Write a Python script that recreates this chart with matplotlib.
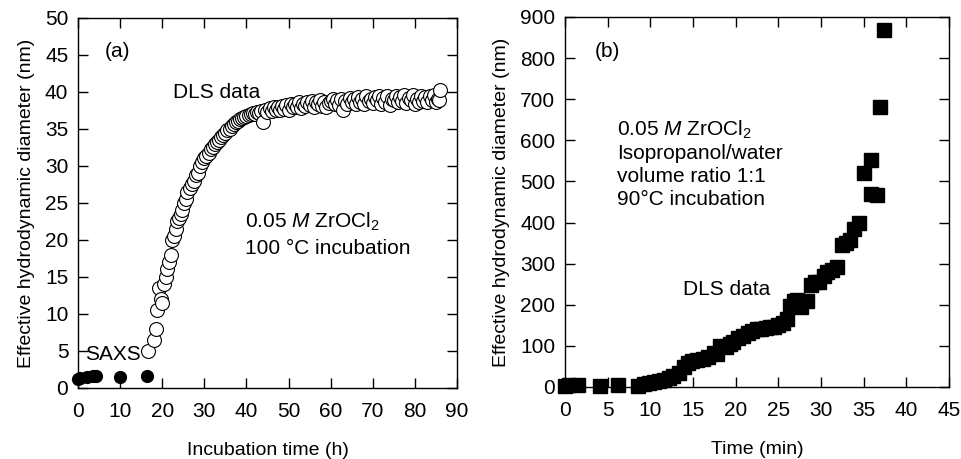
import matplotlib
matplotlib.use("Agg")
import matplotlib.pyplot as plt

plt.rcParams.update({
    "font.family": "Liberation Sans",
    "font.size": 14,
    "mathtext.fontset": "custom",
    "mathtext.rm": "Liberation Sans",
    "mathtext.it": "Liberation Sans:italic",
})

# panel (a): SAXS (filled) and DLS (open) data, hours vs nm
saxs_t = [0.0, 0.5, 2.1, 3.6, 4.3, 10.0, 16.4]
saxs_d = [1.2, 1.3, 1.5, 1.6, 1.6, 1.5, 1.6]

dls_t = [16.5, 18.0, 18.4, 18.8, 19.2, 19.6, 20.0, 20.4, 20.8, 21.2,
         21.6, 22.0, 22.4, 22.8, 23.2, 23.6, 24.0, 24.4, 24.8, 25.2,
         25.6, 26.0, 26.5, 27.0, 27.5, 28.0, 28.5, 29.0, 29.5, 30.0,
         30.5, 31.0, 31.5, 32.0, 32.5, 33.0, 33.5, 34.0, 34.5, 35.0,
         35.5, 36.0, 36.5, 37.0, 37.5, 38.0, 38.5, 39.0, 39.5, 40.0,
         40.5, 41.0, 41.5, 42.0, 42.5, 43.0, 43.5, 44.0, 44.5,
         45.0, 45.5, 46.0, 46.5, 47.0, 47.5, 48.0, 48.5, 49.0, 49.5,
         50.0, 50.5, 51.0, 51.5, 52.0, 52.5, 53.0, 53.5, 54.0, 54.5,
         55.0, 55.5, 56.0, 56.5, 57.0, 57.5, 58.0, 58.5, 59.0, 59.5,
         60.0, 60.5, 61.0, 61.5, 62.0, 62.5, 63.0, 63.5, 64.0, 64.5,
         65.0, 65.5, 66.0, 66.5, 67.0, 67.5, 68.0, 68.5, 69.0, 69.5,
         70.0, 70.5, 71.0, 71.5, 72.0, 72.5, 73.0, 73.5, 74.0, 74.5,
         75.0, 75.5, 76.0, 76.5, 77.0, 77.5, 78.0, 78.5, 79.0, 79.5,
         80.0, 80.5, 81.0, 81.5, 82.0, 82.5, 83.0, 83.5, 84.0, 84.5,
         85.0, 85.5, 85.7, 86.0]
dls_d = [5.0, 6.5, 8.0, 10.5, 13.5, 12.0, 11.5, 14.0, 15.0, 16.0,
         17.0, 18.0, 20.0, 20.5, 21.5, 22.5, 23.0, 23.5, 24.0, 25.0,
         25.5, 26.5, 27.0, 27.5, 28.0, 28.8, 29.0, 30.0, 30.5, 31.0,
         31.3, 31.8, 32.3, 32.5, 33.0, 33.2, 33.5, 33.9, 34.2, 34.5,
         34.8, 35.0, 35.4, 35.6, 35.9, 36.0, 36.3, 36.5, 36.6, 36.8,
         36.9, 37.0, 37.2, 37.0, 37.3, 37.1, 37.4, 35.9, 37.5,
         37.3, 37.8, 37.4, 37.9, 37.6, 38.0, 37.5, 38.1, 37.7, 38.2,
         37.6, 38.3, 37.9, 38.4, 38.0, 38.6, 37.8, 38.4, 38.1, 38.7,
         38.2, 38.8, 38.0, 38.6, 38.3, 38.9, 38.1, 38.7, 37.9, 38.5,
         38.8, 39.1, 38.4, 38.9, 38.2, 39.0, 37.6, 38.8, 38.3, 39.2,
         38.6, 39.0, 38.4, 39.3, 38.7, 39.1, 38.3, 39.4, 38.8, 39.0,
         38.5, 39.3, 38.9, 39.5, 38.4, 39.2, 38.7, 39.4, 38.2, 39.0,
         38.9, 39.5, 38.6, 39.3, 38.8, 39.6, 38.5, 39.2, 38.9, 39.6,
         38.4, 39.1, 38.7, 39.5, 38.8, 39.3, 38.6, 39.4, 38.9, 39.6,
         38.7, 39.0, 38.9, 40.3]

# panel (b): DLS data, minutes vs nm
b_t = [0.0, 0.5, 1.5, 4.1, 6.2, 8.6, 9.2, 9.8, 10.4, 11.0,
       11.6, 12.2, 12.7, 13.3, 13.9, 14.4, 14.9, 15.5, 16.2, 16.8,
       17.4, 17.8, 18.2, 18.8, 19.3, 19.7, 20.3, 20.9, 21.4, 21.9,
       22.5, 23.0, 23.5, 24.0, 24.5, 25.0, 25.5, 26.0, 26.4, 26.8,
       27.2, 27.6, 28.3, 28.8, 29.3, 29.8, 30.3, 30.7, 31.3, 31.9,
       32.4, 32.9, 33.4, 33.8, 34.4, 35.0, 35.8, 35.8, 36.6, 36.9,
       37.4]
b_d = [3, 5, 4, 3, 4, 2, 6, 9, 12, 15,
       18, 22, 27, 33, 48, 58, 64, 66, 68, 74,
       82, 80, 100, 98, 105, 109, 118, 124, 130, 136,
       140, 142, 144, 145, 146, 150, 156, 165, 197, 209,
       212, 195, 210, 248, 255, 256, 270, 279, 285, 291,
       346, 350, 358, 385, 398, 520, 553, 470, 468, 680,
       869]

fig = plt.figure(figsize=(9.61, 4.59), dpi=100)
ax1 = fig.add_axes([0.0812, 0.155, 0.3943, 0.806])
ax2 = fig.add_axes([0.588, 0.157, 0.3996, 0.806])

ax1.plot(dls_t, dls_d, "o", ms=10, mfc="white", mec="black", mew=0.8, zorder=3)
ax1.plot(saxs_t, saxs_d, "o", ms=8.5, color="black", zorder=4, clip_on=False)
ax1.set_xlim(0, 90)
ax1.set_ylim(0, 50)
ax1.set_xticks(range(0, 91, 10))
ax1.set_yticks(range(0, 51, 5))
ax1.set_xlabel("Incubation time (h)", labelpad=15)
ax1.set_ylabel("Effective hydrodynamic diameter (nm)", labelpad=7)
ax1.text(6.4, 45.4, "(a)", va="center", fontsize=15)
ax1.text(22.6, 39.9, "DLS data", va="center", fontsize=15)
ax1.text(39.7, 22.4, "0.05 $M$ ZrOCl$_2$", va="center", fontsize=15)
ax1.text(39.7, 18.9, "100 °C incubation", va="center", fontsize=15)
ax1.text(1.7, 4.5, "SAXS", va="center", fontsize=15)

ax2.plot(b_t, b_d, "s", ms=9.5, color="black", clip_on=False)
ax2.set_xlim(0, 45)
ax2.set_ylim(0, 900)
ax2.set_xticks(range(0, 46, 5))
ax2.set_yticks(range(0, 901, 100))
ax2.set_xlabel("Time (min)", labelpad=15)
ax2.set_ylabel("Effective hydrodynamic diameter (nm)", labelpad=7)
ax2.text(3.5, 815, "(b)", va="center", fontsize=15)
ax2.text(6.1, 626, "0.05 $M$ ZrOCl$_2$", va="center", fontsize=15)
ax2.text(6.1, 567, "Isopropanol/water", va="center", fontsize=15)
ax2.text(6.1, 512, "volume ratio 1:1", va="center", fontsize=15)
ax2.text(6.1, 456, "90°C incubation", va="center", fontsize=15)
ax2.text(13.8, 238, "DLS data", va="center", fontsize=15)

for ax in (ax1, ax2):
    ax.tick_params(direction="in", length=7, width=1, top=True, right=True,
                   labelsize=15)
    ax.tick_params(axis="x", pad=10)
    ax.tick_params(axis="y", pad=7)
    for s in ax.spines.values():
        s.set_linewidth(1)

fig.savefig("out.png", dpi=100)
